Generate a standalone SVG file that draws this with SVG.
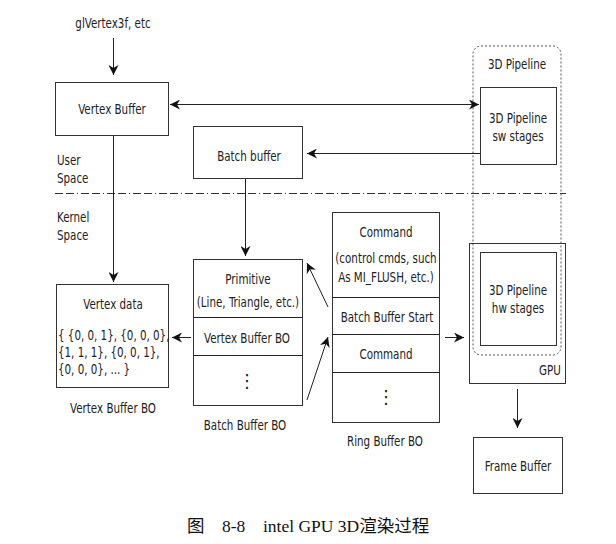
<svg xmlns="http://www.w3.org/2000/svg" width="616" height="544" viewBox="0 0 616 544">
<style>
.box{fill:#fff;stroke:#333;stroke-width:1}
.t,.tl{font-family:"DejaVu Sans Condensed","DejaVu Sans",sans-serif;font-size:13.5px;fill:#222;transform-box:fill-box;transform:scaleX(0.85)}
.t{text-anchor:middle;transform-origin:center}
.tl{transform-origin:left}
.dots{font-family:"DejaVu Sans",sans-serif;font-size:18px;fill:#222;text-anchor:middle}
.ln{fill:none;stroke:#222;stroke-width:1}
.cap{font-family:"Liberation Serif","Noto Sans CJK SC",serif;font-size:17.5px;fill:#111}
</style>
<defs>
<marker id="ah" viewBox="0 0 10 10" refX="10" refY="5" markerWidth="10" markerHeight="10" markerUnits="userSpaceOnUse" orient="auto-start-reverse">
<path d="M0,0 L10,5 L0,10 L3,5 z" fill="#111"/>
</marker>
</defs>
<rect width="616" height="544" fill="#fff"/>

<g id="labels">
<text class="t" x="113" y="28">glVertex3f, etc</text>
<text class="tl" x="57" y="165">User</text>
<text class="tl" x="57" y="183">Space</text>
<text class="tl" x="57" y="222">Kernel</text>
<text class="tl" x="57" y="240">Space</text>
</g>

<g id="separator">
<line x1="55" y1="193.5" x2="566" y2="193.5" stroke="#333" stroke-width="1" stroke-dasharray="8 3 8 3 1 3"/>
</g>

<g id="pipeline3d">
<rect x="473" y="46" width="88" height="309" rx="8" fill="none" stroke="#555" stroke-width="1" stroke-dasharray="2 2"/>
<text class="t" x="517" y="69">3D Pipeline</text>
</g>

<g id="gpu">
<rect x="469.5" y="243.5" width="96" height="140" fill="none" stroke="#333"/>
<text class="t" x="550" y="375">GPU</text>
</g>

<g id="vertexBuffer">
<rect class="box" x="55.5" y="82.5" width="113" height="53"/>
<text class="t" x="112" y="114">Vertex Buffer</text>
</g>

<g id="batchBuffer">
<rect class="box" x="193.5" y="126.5" width="109" height="52"/>
<text class="t" x="249" y="161">Batch buffer</text>
</g>

<g id="swStages">
<rect class="box" x="480.5" y="87.5" width="76" height="77"/>
<text class="t" x="518" y="123">3D Pipeline</text>
<text class="t" x="518" y="141">sw stages</text>
</g>

<g id="hwStages">
<rect class="box" x="480.5" y="252.5" width="76" height="93"/>
<text class="t" x="518" y="295">3D Pipeline</text>
<text class="t" x="518" y="313">hw stages</text>
</g>

<g id="vertexData">
<rect class="box" x="56.5" y="284.5" width="112" height="103"/>
<text class="t" x="113" y="309">Vertex data</text>
<text class="tl" x="58" y="340">{ {0, 0, 1}, {0, 0, 0},</text>
<text class="tl" x="58" y="357">{1, 1, 1}, {0, 0, 1},</text>
<text class="tl" x="58" y="374">{0, 0, 0}, ... }</text>
<text class="t" x="113" y="413">Vertex Buffer BO</text>
</g>

<g id="batchBufferBO">
<rect class="box" x="193.5" y="259.5" width="109" height="146"/>
<line class="ln" x1="193.5" y1="317.5" x2="302.5" y2="317.5"/>
<line class="ln" x1="193.5" y1="355.5" x2="302.5" y2="355.5"/>
<text class="t" x="248" y="284">Primitive</text>
<text class="t" x="248" y="307">(Line, Triangle, etc.)</text>
<text class="t" x="247" y="343">Vertex Buffer BO</text>
<text class="dots" x="247" y="387">⋮</text>
<text class="t" x="245" y="430">Batch Buffer BO</text>
</g>

<g id="ringBufferBO">
<rect class="box" x="332.5" y="212.5" width="107" height="210"/>
<line class="ln" x1="332.5" y1="297.5" x2="439.5" y2="297.5"/>
<line class="ln" x1="332.5" y1="334.5" x2="439.5" y2="334.5"/>
<line class="ln" x1="332.5" y1="372.5" x2="439.5" y2="372.5"/>
<text class="t" x="386" y="237">Command</text>
<text class="t" x="386" y="263">(control cmds, such</text>
<text class="t" x="386" y="282">As MI_FLUSH, etc.)</text>
<text class="t" x="387" y="322">Batch Buffer Start</text>
<text class="t" x="386" y="359">Command</text>
<text class="dots" x="386" y="403">⋮</text>
<text class="t" x="385" y="446">Ring Buffer BO</text>
</g>

<g id="frameBuffer">
<rect class="box" x="473.5" y="437.5" width="89" height="56"/>
<text class="t" x="518" y="471">Frame Buffer</text>
</g>

<g id="connectors">
<line class="ln" x1="113.5" y1="38" x2="113.5" y2="75" marker-end="url(#ah)"/>
<line class="ln" x1="170" y1="104.5" x2="479" y2="104.5" marker-start="url(#ah)" marker-end="url(#ah)"/>
<line class="ln" x1="480" y1="153.5" x2="307" y2="153.5" marker-end="url(#ah)"/>
<line class="ln" x1="113.5" y1="136" x2="113.5" y2="282" marker-end="url(#ah)"/>
<line class="ln" x1="245.5" y1="179" x2="245.5" y2="256" marker-end="url(#ah)"/>
<line class="ln" x1="191" y1="337.5" x2="172" y2="337.5" marker-end="url(#ah)"/>
<line class="ln" x1="328" y1="307" x2="307" y2="263" marker-end="url(#ah)"/>
<line class="ln" x1="307" y1="400" x2="328" y2="337" marker-end="url(#ah)"/>
<line class="ln" x1="445" y1="337.5" x2="464" y2="337.5" marker-end="url(#ah)"/>
<line class="ln" x1="517.5" y1="389" x2="517.5" y2="428" marker-end="url(#ah)"/>
</g>

<g id="caption">
<text class="cap" x="187" y="532">图</text>
<text class="cap" x="222" y="532">8-8</text>
<text class="cap" x="263" y="532">intel GPU 3D渲染过程</text>
</g>
</svg>
